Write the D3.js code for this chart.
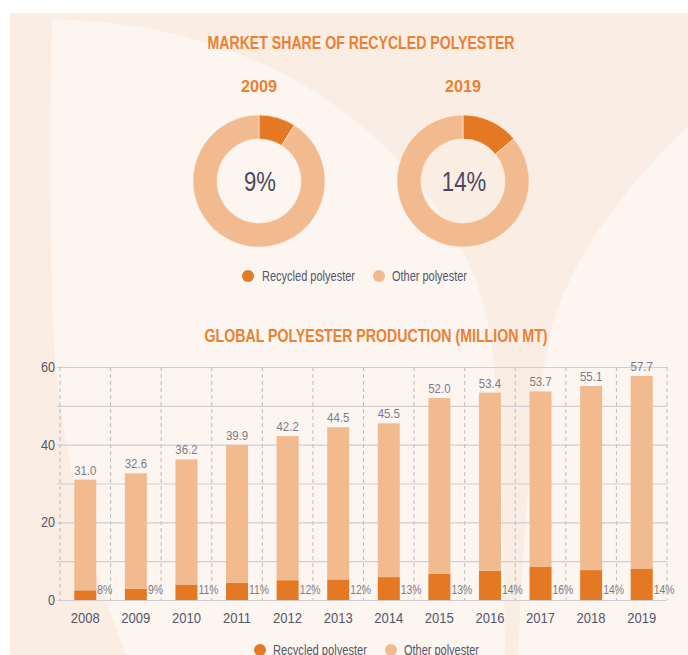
<!DOCTYPE html>
<html>
<head>
<meta charset="utf-8">
<script src="https://cdn.jsdelivr.net/npm/d3@7"></script>
<style>
  html, body { margin: 0; padding: 0; background: #ffffff; }
  svg { display: block; }
  text { font-family: "Liberation Sans", Arial, sans-serif; }
</style>
</head>
<body>
<script>
// ---------- DATA ----------
const donutYears = ["2009", "2019"];
const donutRecycledShare = [9, 14];          // percent recycled
const donutLabels = ["9%", "14%"];
const legendLabels = ["Recycled polyester", "Other polyester"];

const years = ["2008","2009","2010","2011","2012","2013","2014","2015","2016","2017","2018","2019"];
const totalProduction = [31.0, 32.6, 36.2, 39.9, 42.2, 44.5, 45.5, 52.0, 53.4, 53.7, 55.1, 57.7];
const recycledProduction = [2.5, 2.9, 4.0, 4.4, 5.1, 5.3, 5.9, 6.8, 7.5, 8.6, 7.7, 8.1];
const recycledShareLabels = ["8%","9%","11%","11%","12%","12%","13%","13%","14%","16%","14%","14%"];
const valueLabels = ["31.0","32.6","36.2","39.9","42.2","44.5","45.5","52.0","53.4","53.7","55.1","57.7"];

const gridTicks = [0, 10, 20, 30, 40, 50, 60];
const labelTicks = [0, 20, 40, 60];

// ---------- STYLE ----------
const C_DARK = "#e57823";
const C_LIGHT = "#f1bb8f";
const C_TITLE = "#ea8134";
const C_BG = "#f9ede4";
const C_BG_LIGHT = "#fcf5f0";
const C_TEXT = "#55566a";
const C_TEXT_LIGHT = "#7c7c88";

const W = 688, H = 655;
const svg = d3.select("body").append("svg").attr("width", W).attr("height", H);

function condense(sel, f) {
  sel.each(function () {
    const w = this.getComputedTextLength();
    d3.select(this).attr("textLength", w * f).attr("lengthAdjust", "spacingAndGlyphs");
  });
}

// ---------- BACKGROUND ----------
svg.append("rect").attr("x", 10).attr("y", 13).attr("width", W - 10).attr("height", H - 13).attr("fill", C_BG);
const bgClip = svg.append("defs").append("clipPath").attr("id", "bgclip");
bgClip.append("rect").attr("x", 10).attr("y", 13).attr("width", W - 10).attr("height", H - 13);
const leaves = svg.append("g").attr("clip-path", "url(#bgclip)");
leaves.append("path")
  .attr("d", "M52,19 C200,22 330,75 420,185 C470,250 490,300 495,380 C500,470 505,560 505,660 L128,660 C80,540 55,420 52,300 C50,200 50,100 52,19 Z")
  .attr("fill", C_BG_LIGHT);
leaves.append("path")
  .attr("d", "M690,125 C615,195 565,270 550,335 C532,420 522,540 518,660 L690,660 Z")
  .attr("fill", C_BG_LIGHT);

// ---------- TOP: DONUTS ----------
svg.append("text").attr("x", 361).attr("y", 49).attr("text-anchor", "middle")
  .attr("font-size", 18).attr("font-weight", "bold").attr("fill", C_TITLE)
  .attr("textLength", 307).attr("lengthAdjust", "spacingAndGlyphs")
  .text("MARKET SHARE OF RECYCLED POLYESTER");

const donutCenters = [259, 463];
const pie = d3.pie().sort(null).value(d => d);
const arc = d3.arc().innerRadius(42).outerRadius(66);

donutYears.forEach((yr, i) => {
  const cx = donutCenters[i], cy = 181;
  svg.append("text").attr("x", cx).attr("y", 92).attr("text-anchor", "middle")
    .attr("font-size", 17).attr("font-weight", "bold").attr("fill", C_TITLE)
    .attr("textLength", 36).attr("lengthAdjust", "spacingAndGlyphs").text(yr);
  const g = svg.append("g").attr("transform", `translate(${cx},${cy})`);
  g.selectAll("path").data(pie([donutRecycledShare[i], 100 - donutRecycledShare[i]]))
    .join("path").attr("d", arc)
    .attr("fill", (d, j) => j === 0 ? C_DARK : C_LIGHT)
    .attr("stroke", "#fbeee4").attr("stroke-width", 0.6);
  const t = g.append("text").attr("x", 1).attr("y", 10).attr("text-anchor", "middle")
    .attr("font-family", "Roboto, 'Liberation Sans', sans-serif")
    .attr("font-size", 27).attr("font-weight", 300).attr("fill", "#4a4a5e")
    .text(donutLabels[i]);
  condense(t, 0.82);
});

function legend(y, cx1, tx1, w1, cx2, tx2, w2) {
  const g = svg.append("g");
  g.append("circle").attr("cx", cx1).attr("cy", y - 5).attr("r", 6).attr("fill", C_DARK);
  g.append("text").attr("x", tx1).attr("y", y).attr("font-size", 14).attr("fill", C_TEXT)
    .attr("textLength", w1).attr("lengthAdjust", "spacingAndGlyphs").text(legendLabels[0]);
  g.append("circle").attr("cx", cx2).attr("cy", y - 5).attr("r", 6).attr("fill", C_LIGHT);
  g.append("text").attr("x", tx2).attr("y", y).attr("font-size", 14).attr("fill", C_TEXT)
    .attr("textLength", w2).attr("lengthAdjust", "spacingAndGlyphs").text(legendLabels[1]);
}
legend(281, 248, 262, 93, 379, 392, 75);

// ---------- BOTTOM: BAR CHART ----------
svg.append("text").attr("x", 376).attr("y", 342).attr("text-anchor", "middle")
  .attr("font-size", 18).attr("font-weight", "bold").attr("fill", C_TITLE)
  .attr("textLength", 343).attr("lengthAdjust", "spacingAndGlyphs")
  .text("GLOBAL POLYESTER PRODUCTION (MILLION MT)");

const pad = 0.565;
const x = d3.scaleBand().domain(years).range([60, 667]).paddingInner(pad).paddingOuter(pad / 2);
const y = d3.scaleLinear().domain([0, 60]).range([600, 367]);

// horizontal grid + y labels
const yAxis = d3.axisLeft(y).tickValues(gridTicks).tickSize(-(667 - 57)).tickPadding(2)
  .tickFormat(d => labelTicks.includes(d) ? d : "");
const ya = svg.append("g").attr("transform", "translate(57,0)").call(yAxis);
ya.select(".domain").remove();
ya.selectAll(".tick line").attr("stroke", "#cfcfd2").attr("stroke-width", 1.2);
ya.selectAll(".tick text").attr("font-size", 14).attr("fill", C_TEXT)
  .attr("font-family", "'Liberation Sans', Arial, sans-serif");
condense(ya.selectAll(".tick text"), 0.9);

// vertical dashed separators
const half = (x.step() - x.bandwidth()) / 2;
const seps = years.map(d => x(d) - half).concat([x(years[years.length - 1]) + x.bandwidth() + half]);
svg.append("g").selectAll("line").data(seps).join("line")
  .attr("x1", d => d).attr("x2", d => d).attr("y1", y(60)).attr("y2", y(0))
  .attr("stroke", "#bdbdc0").attr("stroke-width", 1).attr("stroke-dasharray", "4,3");

// stacked bars
const table = years.map((yr, i) => ({ year: yr, recycled: recycledProduction[i], other: totalProduction[i] - recycledProduction[i] }));
const stack = d3.stack().keys(["recycled", "other"]);
const series = stack(table);
svg.append("g").selectAll("g").data(series).join("g")
  .attr("fill", s => s.key === "recycled" ? C_DARK : C_LIGHT)
  .selectAll("rect").data(s => s).join("rect")
  .attr("x", d => x(d.data.year)).attr("width", x.bandwidth())
  .attr("y", d => y(d[1])).attr("height", d => y(d[0]) - y(d[1]));

// value labels on top
const vl = svg.append("g").selectAll("text").data(years).join("text")
  .attr("x", d => x(d) + x.bandwidth() / 2)
  .attr("y", (d, i) => y(totalProduction[i]) - 5)
  .attr("text-anchor", "middle").attr("font-size", 13).attr("fill", C_TEXT_LIGHT)
  .text((d, i) => valueLabels[i]);
condense(vl, 0.88);

// share labels
const sl = svg.append("g").selectAll("text").data(years).join("text")
  .attr("x", d => x(d) + x.bandwidth() + 1)
  .attr("y", 594)
  .attr("font-size", 13).attr("fill", C_TEXT_LIGHT)
  .text((d, i) => recycledShareLabels[i]);
condense(sl, 0.8);

// year labels
const xl = svg.append("g").selectAll("text").data(years).join("text")
  .attr("x", d => x(d) + x.bandwidth() / 2)
  .attr("y", 623).attr("text-anchor", "middle")
  .attr("font-size", 15).attr("fill", C_TEXT)
  .text(d => d);
condense(xl, 0.87);

legend(655, 260, 273, 94, 391, 404, 75);
</script>
</body>
</html>
